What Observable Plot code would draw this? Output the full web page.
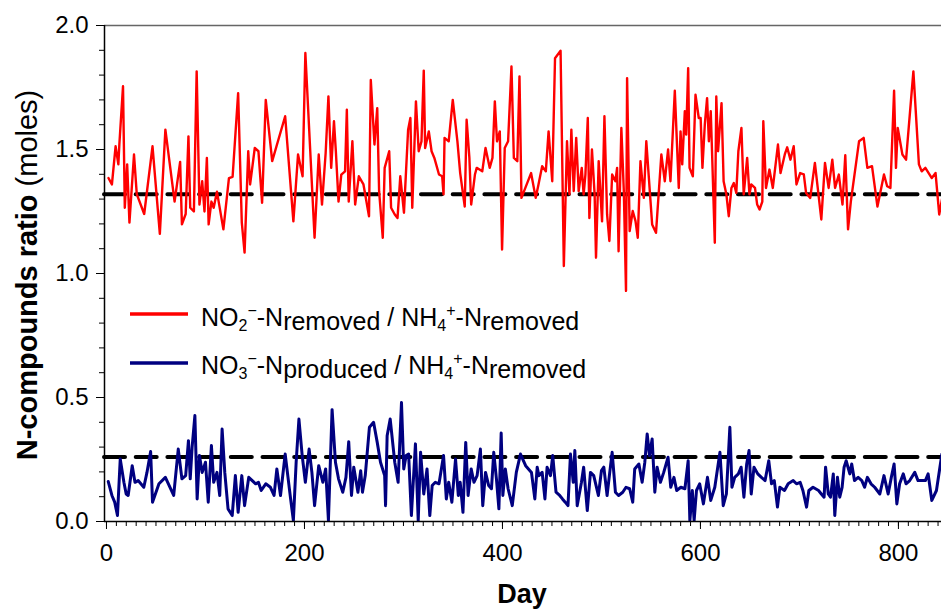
<!DOCTYPE html>
<html><head><meta charset="utf-8">
<script src="https://cdn.jsdelivr.net/npm/d3@7"></script>
<script src="https://cdn.jsdelivr.net/npm/@observablehq/plot@0.6"></script>
<style>
html,body{margin:0;padding:0;background:#fff;}
#chart svg{display:block;}
</style></head><body><div id="chart"></div>
<script>
// NO2- removed / NH4+ removed (red)
const redDays = [2,5.5,9.2,12,13,16.7,18.5,20.9,23.2,27.8,30.6,38.1,46.5,53.9,59.5,68.8,74.4,76.2,80,82.8,84.6,88.3,91.1,93.9,96.7,99,101.4,103.2,106,108.3,111.6,118.1,123.7,127.4,133,136.7,139.5,143.2,145.1,149.8,153.5,157.2,160.9,167.4,180.5,188.8,193.5,198.1,200.9,210.2,214.4,217.7,221.4,224.2,227,229.8,231.7,234.4,237.2,241,242.8,244.7,248.4,251.2,254.9,259.6,265.2,267,270.7,273.5,275.4,279.1,281,285.6,287.5,291.2,294,296.8,300.5,304.7,307,308.9,312.6,315.4,318.2,320.5,321.9,325.6,328.4,331.2,335.9,339.1,340.5,341.5,345.7,349.8,354.5,357.3,361.9,363.8,366.6,368.4,372.2,374,379.6,382.9,387.1,389.9,392.3,394.5,397.3,399.6,402.3,405.7,409.1,411.5,415,417.2,419.2,428.9,433.6,436.4,440.1,443.8,446.6,450.3,453.1,458.7,462,465.2,467.7,469.6,472,474.5,477,480.1,482,483.8,486.2,487.8,490.4,493.1,494.5,497.2,500.6,503,505.7,508,510.8,514.1,515.8,517.3,520.1,522.6,524.8,525.9,528.5,531.6,534.4,536.7,539.4,542.8,545.3,551.2,555.1,560.5,564,567.3,569.7,574.1,578.1,579.9,581.6,584.2,585.6,587.6,589,592.3,595,598.3,600.2,602,604.4,606.7,608.5,610.4,611.9,614.5,616,617.8,621.3,623.4,626.2,628.6,631.3,633.7,636.2,638.3,641.4,643.7,647.2,649.5,651.3,655.1,657.3,659.7,662.5,663.5,666.2,669.7,673.1,678.3,680.9,685.2,687.6,690.9,694.2,697,700.7,704.4,706.7,710.9,715.6,722.1,725.8,729.5,733.2,736,739.8,743.5,746.3,749.1,751.9,760.2,764.9,768.6,773.3,778.8,785.4,788.6,791.9,795.6,797.5,799.3,804,807.7,815.1,820.7,823.5,827.2,833.7,837.5,841.2,844.9];
const redValues = [1.385,1.359,1.513,1.44,1.52,1.755,1.265,1.44,1.205,1.48,1.32,1.24,1.513,1.16,1.58,1.29,1.45,1.198,1.24,1.553,1.265,1.25,1.815,1.278,1.372,1.25,1.466,1.198,1.29,1.265,1.33,1.178,1.385,1.39,1.727,1.205,1.084,1.493,1.359,1.506,1.493,1.285,1.70,1.453,1.634,1.21,1.48,1.392,1.889,1.144,1.48,1.278,1.486,1.714,1.426,1.614,1.493,1.29,1.399,1.412,1.66,1.29,1.533,1.278,1.392,1.359,1.231,1.78,1.52,1.667,1.332,1.144,1.426,1.493,1.265,1.238,1.224,1.392,1.245,1.58,1.627,1.265,1.694,1.493,1.533,1.818,1.506,1.573,1.493,1.466,1.399,1.392,1.319,1.547,1.533,1.70,1.533,1.405,1.27,1.62,1.466,1.278,1.399,1.426,1.412,1.506,1.426,1.466,1.694,1.533,1.573,1.097,1.506,1.533,1.835,1.466,1.453,1.795,1.305,1.405,1.305,1.359,1.433,1.412,1.573,1.372,1.868,1.898,1.03,1.533,1.319,1.58,1.332,1.547,1.332,1.426,1.319,1.399,1.627,1.224,1.50,1.319,1.064,1.453,1.21,1.634,1.238,1.131,1.399,1.372,1.426,1.09,1.587,1.332,0.93,1.788,1.171,1.252,1.211,1.144,1.453,1.305,1.533,1.198,1.164,1.48,1.372,1.50,1.372,1.737,1.345,1.573,1.44,1.654,1.56,1.828,1.426,1.392,1.721,1.627,1.627,1.426,1.60,1.707,1.533,1.654,1.466,1.124,1.714,1.493,1.687,1.372,1.319,1.231,1.345,1.365,1.325,1.493,1.587,1.319,1.466,1.319,1.359,1.345,1.278,1.258,1.29,1.614,1.345,1.419,1.345,1.52,1.405,1.48,1.509,1.459,1.513,1.359,1.405,1.40,1.325,1.305,1.446,1.218,1.446,1.345,1.459,1.345,1.399,1.278,1.477,1.178,1.29,1.533,1.547,1.426,1.433,1.27,1.399,1.352,1.345,1.737,1.426,1.587,1.48,1.459,1.815,1.44,1.412,1.426,1.385,1.405,1.238,1.319];
// NO3- produced / NH4+ removed (blue)
const blueDays = [1.8,5.5,8.3,11.1,13.9,17.6,19.9,21.9,26,28.8,32,37.7,40.9,44.6,46.5,53,59.5,67.9,72.5,76.2,80,82.8,84.6,86.5,89.3,91.6,93.9,96.7,100,102.8,106,108.3,111.6,114.4,116.8,119.5,122.8,127,130.2,133,136.7,139.5,143.7,150.7,153.5,156.3,160.9,165.6,169.3,172.1,175.8,180.5,186,188.8,191.6,194.4,197.7,200.9,204.7,207.5,210.2,214.4,218.6,221.4,224.2,227.9,231.3,234.4,238.7,241.9,244.7,247.5,249.8,254,256.8,258.6,261.4,265.6,269.8,273.5,276.8,281,281.9,283.5,286.6,291.2,294.6,298,300.3,302.7,305.2,308,312.1,314.9,317.3,320.5,323.8,326.6,329,332.2,335.9,340.5,343.3,345.7,348.9,352.6,355.4,357.3,360.1,362.9,365.3,368.4,371.2,374.4,377.7,380.1,382.9,386.1,388.9,391.2,393.9,396.4,398.7,400.4,402.9,405.7,409.9,414,418.2,423.4,429.3,432.7,435.1,436.8,440.1,442.9,445.1,448.5,450.8,454.1,457.8,460.6,463.4,466.2,468.7,471.5,473.1,475.5,479.8,482,485.7,488.9,492.2,496.9,500,502.4,505.7,508,510.8,514.1,517.3,521.5,524.8,528.5,531.6,533.6,537.8,541.1,543.8,546.2,548.5,551.2,553.9,556.2,559.6,562.9,567.3,570,573.2,576,580.2,584.3,587.6,589.3,591.8,593.6,596,599.2,603,607.1,610.4,614.5,619.7,623,626.2,629.7,631.8,634.6,638.3,641.1,643.9,646.7,649.1,651.3,654.1,657.9,661.6,665.3,669,671.8,674.6,677.8,680.2,684.9,688.6,693.7,697,700.7,703.5,707.2,709.5,713.7,719.3,722.1,724.9,726.4,729.1,731.4,734.2,735.7,738.4,740.7,743.1,745.1,747.2,750.9,752.8,755.6,759.3,763,765.8,768.6,772.3,776,781.2,785.4,789.6,792.8,795.6,798.4,801.2,804.9,807.7,811.4,816.5,819.8,823.5,827.2,830,833.7,838.4,843.9];
const blueValues = [0.161,0.105,0.078,0.024,0.252,0.158,0.111,0.105,0.225,0.158,0.165,0.138,0.198,0.282,0.078,0.152,0.178,0.105,0.292,0.172,0.185,0.326,0.172,0.299,0.427,0.091,0.266,0.198,0.239,0.078,0.306,0.158,0.198,0.105,0.373,0.198,0.051,0.024,0.185,0.037,0.185,0.064,0.178,0.152,0.158,0.125,0.152,0.138,0.105,0.212,0.105,0.272,0.091,0.004,0.239,0.413,0.266,0.158,0.292,0.198,0.064,0.225,0.158,0.212,0.004,0.451,0.239,0.172,0.118,0.178,0.322,0.105,0.219,0.118,0.205,0.118,0.185,0.38,0.40,0.319,0.239,0.185,0.064,0.346,0.413,0.239,0.158,0.48,0.212,0.266,0.272,0.024,0.313,0.004,0.279,0.111,0.212,0.024,0.145,0.158,0.152,0.266,0.091,0.158,0.078,0.252,0.105,0.158,0.037,0.319,0.105,0.212,0.158,0.185,0.292,0.064,0.198,0.145,0.132,0.279,0.172,0.051,0.357,0.105,0.212,0.132,0.064,0.198,0.272,0.225,0.198,0.091,0.219,0.185,0.198,0.091,0.219,0.185,0.266,0.118,0.105,0.091,0.078,0.064,0.272,0.158,0.286,0.064,0.158,0.219,0.044,0.198,0.185,0.105,0.205,0.219,0.105,0.185,0.279,0.118,0.105,0.118,0.138,0.132,0.078,0.212,0.232,0.158,0.239,0.353,0.266,0.333,0.118,0.219,0.158,0.198,0.259,0.138,0.178,0.125,0.138,0.132,0.245,0.004,0.125,0.004,0.125,0.152,0.071,0.178,0.085,0.138,0.279,0.064,0.111,0.38,0.138,0.178,0.192,0.219,0.098,0.232,0.286,0.111,0.219,0.192,0.178,0.165,0.245,0.152,0.165,0.058,0.138,0.125,0.152,0.165,0.152,0.158,0.125,0.058,0.125,0.138,0.125,0.111,0.098,0.219,0.111,0.098,0.192,0.024,0.178,0.098,0.138,0.219,0.245,0.192,0.232,0.165,0.178,0.165,0.138,0.178,0.152,0.138,0.111,0.185,0.111,0.178,0.232,0.071,0.152,0.192,0.152,0.165,0.198,0.165,0.165,0.165,0.192,0.085,0.125,0.272];
// mean levels (dashed lines)
const meanLevels = [1.32, 0.26];
const xTickValues = [0, 200, 400, 600, 800];
const yTickValues = [0, 0.5, 1.0, 1.5, 2.0];
const xMinorTicks = d3.range(0, 850, 10);
const yMinorTicks = d3.range(0, 2.001, 0.1);
const seriesNames = ["NO2-removed/NH4+removed", "NO3-produced/NH4+removed"];

const xDomain = [-2, 843.5];
const yDomain = [0, 2];

const red = redDays.map((d, i) => ({day: d, value: redValues[i], series: seriesNames[0]}));
const blue = blueDays.map((d, i) => ({day: d, value: blueValues[i], series: seriesNames[1]}));

const FONT = "'Liberation Sans', Arial, Helvetica, sans-serif";

const chart = Plot.plot({
  width: 941,
  height: 611,
  marginLeft: 104,
  marginRight: 0,
  marginTop: 25,
  marginBottom: 90,
  style: {fontFamily: FONT, fontSize: "24px", color: "black", background: "white", overflow: "visible"},
  x: {domain: xDomain},
  y: {domain: yDomain},
  marks: [
    Plot.ruleY([yDomain[1]], {stroke: "#666", strokeWidth: 1.5}),
    Plot.ruleY(meanLevels, {stroke: "black", strokeWidth: 4, strokeDasharray: "21,10.7", strokeLinecap: "round"}),
    Plot.line(red, {x: "day", y: "value", stroke: "#ff0000", strokeWidth: 2.4, clip: true}),
    Plot.line(blue, {x: "day", y: "value", stroke: "#000080", strokeWidth: 3, clip: true}),
    Plot.ruleX([xDomain[0]], {stroke: "black", strokeWidth: 1.5}),
    Plot.ruleY([yDomain[0]], {stroke: "black", strokeWidth: 1.5}),
    Plot.axisY(yMinorTicks, {tickSize: 5, tickFormat: () => "", label: null}),
    Plot.axisY(yTickValues, {tickSize: 8, tickPadding: 8, tickFormat: d3.format(".1f"), label: null, fontSize: 24}),
    Plot.axisX(xMinorTicks, {tickSize: 5, tickFormat: () => "", label: null}),
    Plot.axisX(xTickValues, {tickSize: 8, tickPadding: 14, tickFormat: d3.format("d"), label: null, fontSize: 24})
  ]
});

document.getElementById("chart").appendChild(chart);

const svg = d3.select(chart);

// Axis titles
const yt = svg.append("text")
  .attr("transform", "translate(37,275) rotate(-90)")
  .attr("text-anchor", "middle")
  .attr("font-family", FONT)
  .attr("font-size", 29)
  .attr("fill", "black");
yt.append("tspan").attr("font-weight", "bold").text("N-compounds ratio");
yt.append("tspan").attr("font-weight", "normal").text("\u00a0(moles)");

svg.append("text")
  .attr("x", 522).attr("y", 603)
  .attr("text-anchor", "middle")
  .attr("font-family", FONT)
  .attr("font-size", 27)
  .attr("font-weight", "bold")
  .attr("fill", "black")
  .text("Day");

// Legend: [text, vertical offset from baseline, font size]
const legendItems = [
  {color: "#ff0000", lineY: 314, base: 326,
   parts: [["NO",0,25],["2",5,16],["\u2212",-10,16],["-N",0,25],["removed",4,25],["\u00a0/\u00a0NH",0,25],["4",5,16],["+",-10,16],["-N",0,25],["removed",4,25]]},
  {color: "#000080", lineY: 363, base: 374,
   parts: [["NO",0,25],["3",5,16],["\u2212",-10,16],["-N",0,25],["produced",4,25],["\u00a0/\u00a0NH",0,25],["4",5,16],["+",-10,16],["-N",0,25],["removed",4,25]]}
];
const lg = svg.append("g").attr("text-anchor", "start");
legendItems.forEach(item => {
  lg.append("line")
    .attr("x1", 130).attr("x2", 188)
    .attr("y1", item.lineY).attr("y2", item.lineY)
    .attr("stroke", item.color).attr("stroke-width", 3.5);
  const t = lg.append("text")
    .attr("x", 201).attr("y", item.base)
    .attr("text-anchor", "start")
    .attr("font-family", FONT)
    .attr("fill", "black");
  let prev = 0;
  item.parts.forEach(([s, off, fs]) => {
    t.append("tspan").attr("dy", off - prev).attr("font-size", fs).text(s);
    prev = off;
  });
});
</script>
</body></html>
